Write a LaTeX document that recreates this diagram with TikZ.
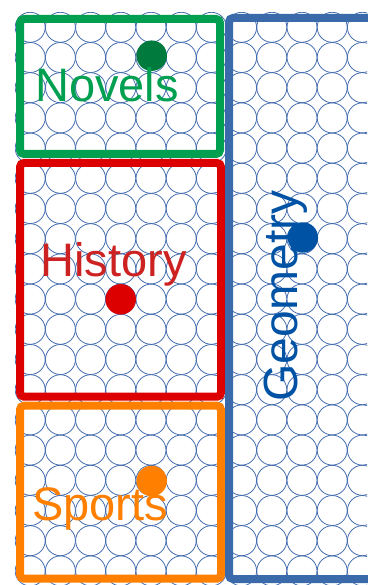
\documentclass[tikz,border=0pt]{standalone}
\usepackage{fontspec}
\setmainfont{Liberation Sans}
\definecolor{cgreen}{RGB}{0,160,80}
\definecolor{cdgreen}{RGB}{0,122,61}
\definecolor{cred}{RGB}{221,0,0}
\definecolor{ctred}{RGB}{204,34,34}
\definecolor{corange}{RGB}{255,128,0}
\definecolor{cblue}{RGB}{58,106,170}
\definecolor{cdblue}{RGB}{0,82,165}
\definecolor{cpat}{RGB}{70,110,175}
\tikzset{
  box/.style={line width=8pt, rounded corners=4pt},
  dot/.style={circle, inner sep=0pt, minimum size=30.5pt},
  lbl/.style={inner sep=0pt, anchor=base, font=\fontsize{47}{47}\selectfont},
  patcircle/.style={draw=cpat, line width=0.8pt}
}
\begin{document}
\begin{tikzpicture}[x=1pt,y=-1pt]
\useasboundingbox (0,0) rectangle (367,585);
% circle pattern
\begin{scope}
  \clip (15,13) rectangle (367,584);
  \foreach \i in {0,...,11}{
    \foreach \j in {0,...,18}{
      \draw[patcircle] ({30.2+30.2*\i},{27.3+30.2*\j}) circle[radius=15];
    }
  }
\end{scope}
% boxes
\draw[box, cgreen] (20,19) rectangle (220,154);
\draw[box, cred] (20,163) rectangle (221,396.7);
\draw[box, corange] (20,405.7) rectangle (221,578.7);
\draw[box, cblue] (229,18) rectangle (400,579);
% dots
\node[dot, fill=cdgreen] (dnov) at (151.7,55.7) {};
\node[dot, fill=cred] (dhis) at (120.7,299.3) {};
\node[dot, fill=corange] (dspo) at (151.7,481) {};
\node[dot, fill=cdblue] (dgeo) at (302.8,237.5) {};
% labels
\node[lbl, text=cgreen] (tnov) at (107,101.7) {Novels};
\node[lbl, text=ctred] (this) at (113.7,276.7) {History};
\node[lbl, text=corange] (tspo) at (100,520) {Sports};
\node[lbl, text=cdblue, rotate=90, font=\fontsize{48}{48}\selectfont] (tgeo) at (297,296) {Geometry};
\end{tikzpicture}
\end{document}
